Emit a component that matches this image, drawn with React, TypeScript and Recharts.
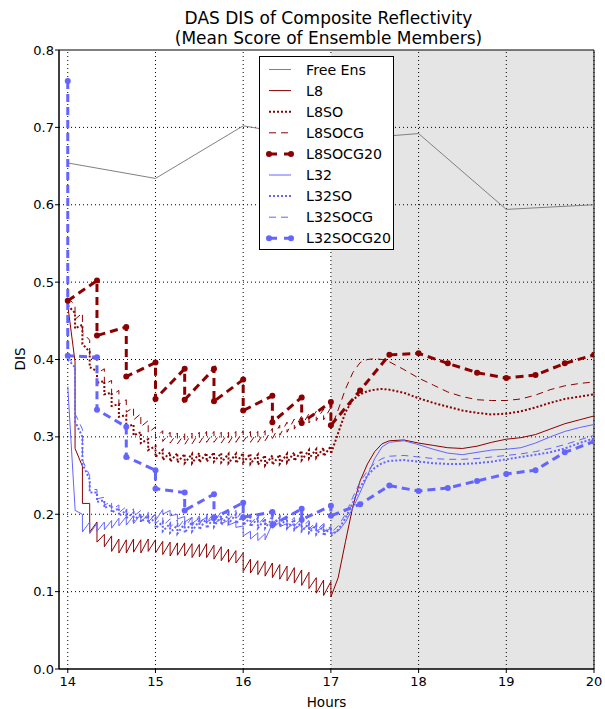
import React from 'react';
import { LineChart, Line, XAxis, YAxis, ReferenceArea, ReferenceLine, Legend } from 'recharts';

// 5-minute analysis cycles from 14 to 17 h
const cycleHours = [
  14, 14.083, 14.167, 14.25, 14.333, 14.417, 14.5, 14.583, 14.667, 14.75, 14.833, 14.917,
  15, 15.083, 15.167, 15.25, 15.333, 15.417, 15.5, 15.583, 15.667, 15.75, 15.833, 15.917,
  16, 16.083, 16.167, 16.25, 16.333, 16.417, 16.5, 16.583, 16.667, 16.75, 16.833, 16.917, 17,
];
// free forecast after 17 h
const forecastHours = [
  17.083, 17.167, 17.25, 17.333, 17.417, 17.5, 17.583, 17.667, 17.833, 18, 18.167, 18.333,
  18.5, 18.667, 18.833, 19, 19.167, 19.333, 19.5, 19.667, 19.833, 20,
];
// 20-minute cycles
const cycle20Hours = [14.333, 14.667, 15, 15.333, 15.667, 16, 16.333, 16.667, 17];
const forecast20Hours = [17.333, 17.667, 18, 18.333, 18.667, 19, 19.333, 19.667, 20];

const xTicks = [14, 15, 16, 17, 18, 19, 20];
const yTicks = [0, 0.1, 0.2, 0.3, 0.4, 0.5, 0.6, 0.7, 0.8];

const freeHours = [14, 15, 16, 17, 18, 19, 20];
const freeEns = [0.654, 0.634, 0.702, 0.683, 0.692, 0.594, 0.6];

// L8
const l8Start = [0.47];
const l8Prior = [0.397, 0.262, 0.214, 0.19, 0.174, 0.172, 0.168, 0.167, 0.168, 0.167, 0.168, 0.167,
  0.165, 0.164, 0.163, 0.163, 0.162, 0.161, 0.162, 0.16, 0.158, 0.155, 0.153, 0.15,
  0.142, 0.14, 0.139, 0.137, 0.135, 0.133, 0.131, 0.128, 0.125, 0.118, 0.115, 0.113];
const l8Post = [0.285, 0.214, 0.177, 0.164, 0.158, 0.152, 0.15, 0.15, 0.151, 0.15, 0.152, 0.15,
  0.148, 0.146, 0.147, 0.146, 0.144, 0.145, 0.144, 0.142, 0.14, 0.138, 0.137, 0.126,
  0.124, 0.122, 0.12, 0.118, 0.116, 0.114, 0.111, 0.108, 0.104, 0.098, 0.095, 0.093];
const l8Fcst = [0.118, 0.165, 0.21, 0.243, 0.265, 0.281, 0.291, 0.295, 0.296, 0.292, 0.289, 0.286,
  0.285, 0.288, 0.293, 0.297, 0.299, 0.303, 0.31, 0.317, 0.322, 0.327];

// L8SO
const l8soStart = [0.47];
const l8soPrior = [0.46, 0.445, 0.41, 0.385, 0.372, 0.357, 0.342, 0.328, 0.316, 0.306, 0.297, 0.288,
  0.283, 0.28, 0.279, 0.278, 0.278, 0.279, 0.279, 0.28, 0.279, 0.278, 0.278, 0.279,
  0.278, 0.277, 0.276, 0.276, 0.277, 0.278, 0.28, 0.282, 0.283, 0.284, 0.286, 0.288];
const l8soPost = [0.44, 0.42, 0.39, 0.37, 0.355, 0.34, 0.326, 0.313, 0.302, 0.292, 0.283, 0.274,
  0.27, 0.268, 0.267, 0.266, 0.266, 0.267, 0.268, 0.268, 0.267, 0.266, 0.266, 0.267,
  0.265, 0.264, 0.263, 0.264, 0.265, 0.267, 0.269, 0.27, 0.272, 0.273, 0.275, 0.278];
const l8soFcst = [0.305, 0.332, 0.348, 0.355, 0.359, 0.361, 0.362, 0.361, 0.357, 0.35, 0.344, 0.339,
  0.334, 0.331, 0.329, 0.33, 0.333, 0.338, 0.344, 0.349, 0.352, 0.355];

// L8SOCG
const l8socgStart = [0.48];
const l8socgPrior = [0.47, 0.46, 0.425, 0.4, 0.388, 0.373, 0.36, 0.348, 0.338, 0.33, 0.321, 0.313,
  0.308, 0.306, 0.305, 0.304, 0.305, 0.306, 0.307, 0.307, 0.306, 0.306, 0.307, 0.308,
  0.307, 0.307, 0.308, 0.311, 0.315, 0.319, 0.323, 0.327, 0.33, 0.333, 0.336, 0.338];
const l8socgPost = [0.452, 0.435, 0.402, 0.382, 0.368, 0.354, 0.342, 0.332, 0.322, 0.313, 0.305, 0.298,
  0.294, 0.292, 0.291, 0.29, 0.291, 0.292, 0.293, 0.293, 0.292, 0.292, 0.293, 0.294,
  0.293, 0.293, 0.295, 0.298, 0.302, 0.306, 0.31, 0.314, 0.318, 0.321, 0.322, 0.31];
const l8socgFcst = [0.335, 0.362, 0.383, 0.396, 0.4, 0.401, 0.4, 0.397, 0.387, 0.376, 0.367, 0.358,
  0.352, 0.348, 0.347, 0.347, 0.349, 0.354, 0.361, 0.366, 0.369, 0.371];

// L8SOCG20
const l8socg20Start = [0.476];
const l8socg20Prior = [0.502, 0.442, 0.396, 0.388, 0.388, 0.374, 0.353, 0.351, 0.345];
const l8socg20Post = [0.431, 0.378, 0.349, 0.348, 0.346, 0.334, 0.319, 0.318, 0.315];
const l8socg20Fcst = [0.36, 0.406, 0.408, 0.395, 0.383, 0.376, 0.38, 0.395, 0.406];

// L32
const l32Start = [0.365];
const l32Prior = [0.207, 0.2, 0.19, 0.188, 0.19, 0.192, 0.195, 0.197, 0.198, 0.2, 0.2, 0.2,
  0.206, 0.205, 0.2, 0.197, 0.196, 0.195, 0.196, 0.195, 0.194, 0.192, 0.19, 0.185,
  0.178, 0.176, 0.175, 0.188, 0.19, 0.188, 0.188, 0.187, 0.186, 0.185, 0.184, 0.182];
const l32Post = [0.205, 0.177, 0.175, 0.178, 0.18, 0.182, 0.185, 0.186, 0.188, 0.19, 0.19, 0.192,
  0.2, 0.198, 0.194, 0.19, 0.188, 0.19, 0.19, 0.188, 0.188, 0.186, 0.183, 0.172,
  0.168, 0.166, 0.167, 0.182, 0.184, 0.182, 0.181, 0.18, 0.18, 0.178, 0.177, 0.175];
const l32Fcst = [0.178, 0.19, 0.208, 0.228, 0.25, 0.272, 0.287, 0.293, 0.295, 0.29, 0.284, 0.279,
  0.277, 0.28, 0.283, 0.284, 0.286, 0.292, 0.3, 0.307, 0.312, 0.316];

// L32SO
const l32soStart = [0.4];
const l32soPrior = [0.39, 0.3, 0.245, 0.228, 0.218, 0.212, 0.208, 0.205, 0.202, 0.2, 0.198, 0.195,
  0.19, 0.188, 0.186, 0.188, 0.19, 0.192, 0.195, 0.196, 0.198, 0.2, 0.2, 0.198,
  0.196, 0.195, 0.194, 0.195, 0.196, 0.195, 0.193, 0.19, 0.188, 0.186, 0.185, 0.184];
const l32soPost = [0.32, 0.265, 0.228, 0.216, 0.208, 0.202, 0.198, 0.195, 0.192, 0.19, 0.188, 0.182,
  0.178, 0.176, 0.175, 0.176, 0.178, 0.18, 0.182, 0.184, 0.186, 0.188, 0.188, 0.186,
  0.184, 0.182, 0.182, 0.184, 0.184, 0.182, 0.18, 0.178, 0.176, 0.174, 0.172, 0.172];
const l32soFcst = [0.18, 0.195, 0.215, 0.235, 0.25, 0.26, 0.266, 0.269, 0.27, 0.268, 0.266, 0.265,
  0.265, 0.266, 0.268, 0.271, 0.274, 0.277, 0.28, 0.285, 0.292, 0.298];

// L32SOCG
const l32socgStart = [0.405];
const l32socgPrior = [0.39, 0.31, 0.25, 0.232, 0.222, 0.216, 0.212, 0.21, 0.207, 0.205, 0.203, 0.2,
  0.196, 0.194, 0.193, 0.194, 0.196, 0.198, 0.2, 0.202, 0.203, 0.205, 0.205, 0.204,
  0.2, 0.198, 0.197, 0.198, 0.199, 0.198, 0.196, 0.194, 0.192, 0.19, 0.188, 0.186];
const l32socgPost = [0.33, 0.27, 0.232, 0.22, 0.212, 0.206, 0.202, 0.2, 0.197, 0.195, 0.193, 0.188,
  0.185, 0.183, 0.182, 0.183, 0.185, 0.187, 0.189, 0.19, 0.192, 0.193, 0.194, 0.192,
  0.188, 0.186, 0.186, 0.187, 0.188, 0.186, 0.185, 0.183, 0.181, 0.179, 0.177, 0.176];
const l32socgFcst = [0.185, 0.2, 0.222, 0.242, 0.256, 0.266, 0.272, 0.275, 0.276, 0.274, 0.272, 0.271,
  0.271, 0.272, 0.274, 0.276, 0.278, 0.281, 0.285, 0.29, 0.296, 0.302];

// L32SOCG20
const l32socg20Start = [0.76, 0.405];
const l32socg20Prior = [0.403, 0.313, 0.257, 0.228, 0.226, 0.215, 0.203, 0.207, 0.211];
const l32socg20Post = [0.335, 0.274, 0.233, 0.205, 0.195, 0.196, 0.186, 0.193, 0.198];
const l32socg20Fcst = [0.213, 0.237, 0.23, 0.234, 0.243, 0.252, 0.257, 0.28, 0.294];

const RED = '#8b0000';
const BLUE = '#6464ff';
const GRAY = '#808080';
const FONT = 'DejaVu Sans, sans-serif';

type Pt = { h: number; v: number };

// start values at the first hour, then (prior, posterior) at every cycle, then forecast
function buildSeries(start: number[], times: number[], prior: number[], post: number[],
  fTimes: number[], fcst: number[]): Pt[] {
  const pts: Pt[] = start.map((v) => ({ h: 14, v }));
  const offset = times.length - prior.length;
  prior.forEach((p, i) => {
    pts.push({ h: times[i + offset], v: p });
    pts.push({ h: times[i + offset], v: post[i] });
  });
  fTimes.forEach((t, i) => pts.push({ h: t, v: fcst[i] }));
  return pts;
}

const freeData = freeHours.map((h, i) => ({ h, v: freeEns[i] }));
const l8Data = buildSeries(l8Start, cycleHours, l8Prior, l8Post, forecastHours, l8Fcst);
const l8soData = buildSeries(l8soStart, cycleHours, l8soPrior, l8soPost, forecastHours, l8soFcst);
const l8socgData = buildSeries(l8socgStart, cycleHours, l8socgPrior, l8socgPost, forecastHours, l8socgFcst);
const l8socg20Data = buildSeries(l8socg20Start, cycle20Hours, l8socg20Prior, l8socg20Post, forecast20Hours, l8socg20Fcst);
const l32Data = buildSeries(l32Start, cycleHours, l32Prior, l32Post, forecastHours, l32Fcst);
const l32soData = buildSeries(l32soStart, cycleHours, l32soPrior, l32soPost, forecastHours, l32soFcst);
const l32socgData = buildSeries(l32socgStart, cycleHours, l32socgPrior, l32socgPost, forecastHours, l32socgFcst);
const l32socg20Data = buildSeries(l32socg20Start, cycle20Hours, l32socg20Prior, l32socg20Post, forecast20Hours, l32socg20Fcst);

const legendItems = [
  { name: 'Free Ens', color: GRAY, width: 1, dash: undefined as string | undefined, dots: false },
  { name: 'L8', color: RED, width: 1, dash: undefined, dots: false },
  { name: 'L8SO', color: RED, width: 2, dash: '2 2', dots: false },
  { name: 'L8SOCG', color: RED, width: 1, dash: '7 5', dots: false },
  { name: 'L8SOCG20', color: RED, width: 3, dash: '8 7', dots: true },
  { name: 'L32', color: BLUE, width: 1, dash: undefined, dots: false },
  { name: 'L32SO', color: BLUE, width: 2, dash: '2 2', dots: false },
  { name: 'L32SOCG', color: BLUE, width: 1, dash: '7 5', dots: false },
  { name: 'L32SOCG20', color: BLUE, width: 3, dash: '8 7', dots: true },
];

function LegendBox() {
  return (
    <div style={{ width: 135, height: 194, border: '1px solid #000', background: '#fff', boxSizing: 'border-box' }}>
      <svg width={133} height={192}>
        {legendItems.map((it, i) => {
          const y = 12.5 + i * 21.1;
          return (
            <g key={it.name}>
              <line x1={9} x2={31} y1={y} y2={y} stroke={it.color} strokeWidth={it.width} strokeDasharray={it.dash} />
              {it.dots && <circle cx={9} cy={y} r={3} fill={it.color} />}
              {it.dots && <circle cx={31} cy={y} r={3} fill={it.color} />}
              <text x={46} y={y + 5} fontSize={14.2} fontFamily={FONT} fill="#000">{it.name}</text>
            </g>
          );
        })}
      </svg>
    </div>
  );
}

const tickStyle = { fontSize: 13, fontFamily: FONT, fill: '#000' };

export default function App() {
  return (
    <div style={{ position: 'absolute', left: 0, top: 0, width: 605, height: 709, background: '#fff' }}>
      <div style={{ position: 'absolute', left: 0, top: 8, width: 657, textAlign: 'center', fontFamily: FONT, fontSize: 17, lineHeight: '20px', color: '#000' }}>
        DAS DIS of Composite Reflectivity<br />(Mean Score of Ensemble Members)
      </div>
      <LineChart width={605} height={709} margin={{ top: 50, right: 11, bottom: 0, left: 0 }}>
        <ReferenceArea x1={17} x2={20} y1={0} y2={0.8} fill="#e5e5e5" fillOpacity={1} stroke="none" />
        {xTicks.map((t) => (
          <ReferenceLine key={'x' + t} x={t} stroke="#000" strokeWidth={1} strokeDasharray="1 3" />
        ))}
        {yTicks.slice(1, -1).map((t) => (
          <ReferenceLine key={'y' + t} y={t} stroke="#000" strokeWidth={1} strokeDasharray="1 3" />
        ))}
        <XAxis
          type="number"
          dataKey="h"
          domain={[13.9, 20]}
          ticks={xTicks}
          allowDataOverflow
          height={40}
          tickSize={4}
          tickMargin={4}
          stroke="#000"
          tick={tickStyle}
          label={{ value: 'Hours', position: 'insideBottom', offset: 2, style: { fontSize: 13.5, fontFamily: FONT, fill: '#000' } }}
        />
        <YAxis
          type="number"
          domain={[0, 0.8]}
          ticks={yTicks}
          width={59}
          tickSize={4}
          tickMargin={1}
          stroke="#000"
          tick={tickStyle}
          tickFormatter={(v: number) => v.toFixed(1)}
          label={{
            content: () => (
              <text x={21} y={359} transform="rotate(-90 21 359)" textAnchor="middle" dominantBaseline="middle"
                fontSize={13.5} fontFamily={FONT} fill="#000">DIS</text>
            ),
          }}
        />
        <Line data={freeData} dataKey="v" type="linear" stroke={GRAY} strokeWidth={1} dot={false} isAnimationActive={false} />
        <Line data={l8Data} dataKey="v" type="linear" stroke={RED} strokeWidth={1} dot={false} isAnimationActive={false} />
        <Line data={l8soData} dataKey="v" type="linear" stroke={RED} strokeWidth={2} strokeDasharray="2 2" dot={false} isAnimationActive={false} />
        <Line data={l8socgData} dataKey="v" type="linear" stroke={RED} strokeWidth={1} strokeDasharray="7 5" dot={false} isAnimationActive={false} />
        <Line data={l8socg20Data} dataKey="v" type="linear" stroke={RED} strokeWidth={3} strokeDasharray="8 5"
          dot={{ r: 3, fill: RED, stroke: RED, strokeWidth: 0, strokeDasharray: '' }} isAnimationActive={false} />
        <Line data={l32Data} dataKey="v" type="linear" stroke={BLUE} strokeWidth={1} dot={false} isAnimationActive={false} />
        <Line data={l32soData} dataKey="v" type="linear" stroke={BLUE} strokeWidth={2} strokeDasharray="2 2" dot={false} isAnimationActive={false} />
        <Line data={l32socgData} dataKey="v" type="linear" stroke={BLUE} strokeWidth={1} strokeDasharray="7 5" dot={false} isAnimationActive={false} />
        <Line data={l32socg20Data} dataKey="v" type="linear" stroke={BLUE} strokeWidth={3} strokeDasharray="8 5"
          dot={{ r: 3, fill: BLUE, stroke: BLUE, strokeWidth: 0, strokeDasharray: '' }} isAnimationActive={false} />
        <ReferenceArea x1={13.9} x2={20} y1={0} y2={0.8} fill="none" stroke="#000" strokeWidth={1} ifOverflow="visible" />
        <Legend layout="vertical" align="center" verticalAlign="middle" content={<LegendBox />}
          wrapperStyle={{ left: 259, top: 56, width: 135, height: 194 }} />
      </LineChart>
    </div>
  );
}
